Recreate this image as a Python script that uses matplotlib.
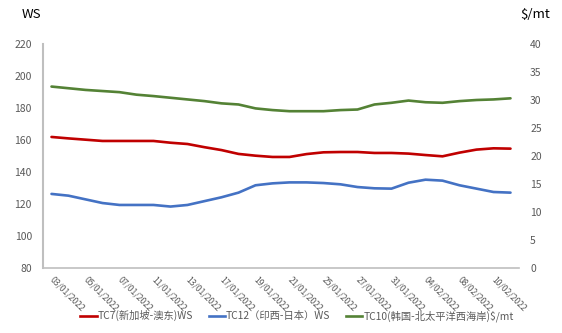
import matplotlib
matplotlib.use("Agg")
import matplotlib.pyplot as plt
from matplotlib.lines import Line2D
from matplotlib.transforms import ScaledTranslation

plt.rcParams['font.family'] = ['Noto Sans CJK SC', 'DejaVu Sans']

dates = ["03/01/2022", "04/01/2022", "05/01/2022", "06/01/2022", "07/01/2022",
         "10/01/2022", "11/01/2022", "12/01/2022", "13/01/2022", "14/01/2022",
         "17/01/2022", "18/01/2022", "19/01/2022", "20/01/2022", "21/01/2022",
         "24/01/2022", "25/01/2022", "26/01/2022", "27/01/2022", "28/01/2022",
         "31/01/2022", "01/02/2022", "04/02/2022", "07/02/2022", "08/02/2022",
         "09/02/2022", "10/02/2022", "11/02/2022"]

tc7 = [161.9, 161.0, 160.2, 159.4, 159.4, 159.4, 159.4, 158.3, 157.5, 155.5,
       153.7, 151.3, 150.2, 149.4, 149.4, 151.2, 152.3, 152.5, 152.5, 151.9,
       151.9, 151.5, 150.6, 149.8, 152.1, 154.0, 154.8, 154.6]

tc12 = [126.3, 125.2, 122.9, 120.6, 119.4, 119.4, 119.4, 118.4, 119.4, 121.8,
        124.2, 127.1, 131.7, 132.9, 133.5, 133.5, 133.1, 132.3, 130.6, 129.8,
        129.6, 133.3, 135.2, 134.6, 131.7, 129.6, 127.5, 127.1]

tc10 = [32.4, 32.1, 31.8, 31.6, 31.4, 30.95, 30.7, 30.4, 30.1, 29.8,
        29.4, 29.2, 28.5, 28.2, 28.0, 28.0, 28.0, 28.2, 28.3, 29.2,
        29.5, 29.9, 29.6, 29.5, 29.8, 30.0, 30.1, 30.3]

labels = ["TC7(新加坡-澳东)WS", "TC12（印西-日本）WS", "TC10(韩国-北太平洋西海岸)$/mt"]
colors = ["#C00000", "#4472C4", "#548235"]

W, H = 562, 333
fig = plt.figure(figsize=(W / 100, H / 100), dpi=100)
ax = fig.add_axes([43 / W, 1 - 268 / H, (519 - 43) / W, (268 - 44) / H])
ax2 = ax.twinx()

x = list(range(len(dates)))
ax.plot(x, tc7, color=colors[0], lw=1.9, solid_capstyle='round')
ax.plot(x, tc12, color=colors[1], lw=1.9, solid_capstyle='round')
ax2.plot(x, tc10, color=colors[2], lw=1.9, solid_capstyle='round')

ax.set_xlim(-0.5, len(dates) - 0.5)
ax.set_ylim(80, 220)
ax.set_yticks(range(80, 221, 20))
ax2.set_ylim(0, 40)
ax2.set_yticks(range(0, 41, 5))

tick_color = "#595959"
for a in (ax, ax2):
    for s in a.spines.values():
        s.set_visible(False)
ax.spines['left'].set_visible(True)
ax.spines['bottom'].set_visible(True)
ax.spines['left'].set_color("#BFBFBF")
ax.spines['bottom'].set_color("#BFBFBF")
ax.spines['left'].set_linewidth(1.5)
ax.spines['bottom'].set_linewidth(1.2)

ax.tick_params(axis='y', length=0, pad=8, labelsize=7.5, labelcolor=tick_color)
ax2.tick_params(axis='y', length=0, pad=8, labelsize=7.5, labelcolor=tick_color)

ax.set_xticks(x[::2])
ax.set_xticklabels(dates[::2], rotation=-45, ha='left', va='top',
                   rotation_mode='anchor', fontsize=6.2, color=tick_color)
ax.tick_params(axis='x', length=0, pad=5)
shift = ScaledTranslation(3 / 100, 0, fig.dpi_scale_trans)
for lbl in ax.get_xticklabels():
    lbl.set_transform(lbl.get_transform() + shift)

fig.text(22 / W, 1 - 15 / H, "WS", fontsize=9.5, color="black", va='center', ha='left')
fig.text(520 / W, 1 - 15 / H, "$/mt", fontsize=9.5, color="black", va='center', ha='left')

handles = [Line2D([0], [0], color=c, lw=1.9) for c in colors]
fig.legend(handles, labels, loc='center', bbox_to_anchor=(297 / W, 1 - 316 / H),
           ncol=3, frameon=False, fontsize=7.4, handlelength=1.6, handletextpad=0.1,
           columnspacing=1.5, labelcolor=tick_color)

fig.savefig("out.png", dpi=100)
